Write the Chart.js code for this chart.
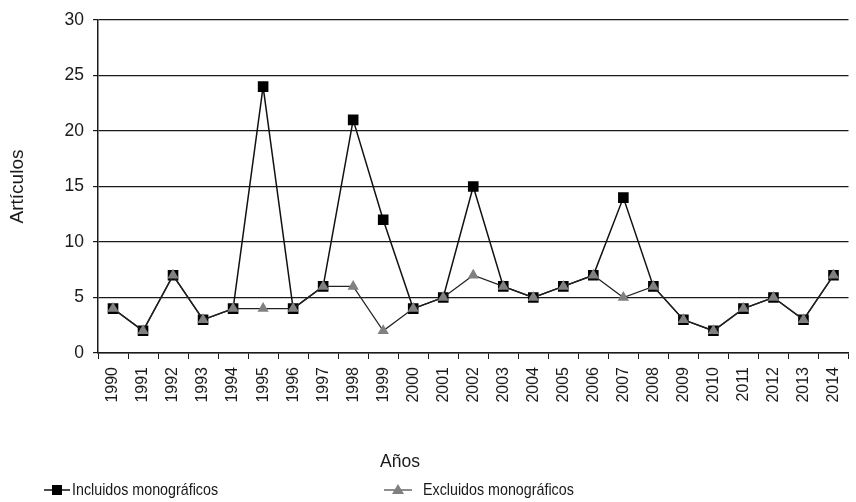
<!DOCTYPE html>
<html>
<head>
<meta charset="utf-8">
<script src="https://cdn.jsdelivr.net/npm/chart.js@4"></script>
<style>
  body { margin: 0; background: #fff; }
  #wrap { position: relative; width: 856px; height: 502px; }
  .txt { position: absolute; font-family: "Liberation Sans", Arial, sans-serif;
    color: #1a1a1a; white-space: nowrap; line-height: 20px; }
  #xtitle { top: 451px; left: 380px; font-size: 17.5px; }
  .item { top: 480px; display: flex; align-items: center; font-size: 17px; }
  .item svg { margin-right: 2px; }
  .cond { display: inline-block; transform: scaleX(0.84); transform-origin: left center; }
</style>
</head>
<body>
<div id="wrap">
  <canvas id="chart" width="856" height="502"></canvas>
  <div id="xtitle" class="txt">Años</div>
  <div class="txt item" style="left:44px">
    <svg width="26" height="20"><line x1="0" y1="10" x2="26" y2="10" stroke="#111" stroke-width="1.5"/><rect x="8" y="5" width="10" height="10" fill="#000"/></svg>
    <span class="cond">Incluidos monográficos</span>
  </div>
  <div class="txt item" style="left:384px">
    <svg width="28" height="20"><line x1="0" y1="10" x2="28" y2="10" stroke="#444" stroke-width="1.2"/><polygon points="14,4 20,14 8,14" fill="#808080"/></svg>
    <span class="cond" style="margin-left:9px">Excluidos monográficos</span>
  </div>
</div>
<script>
const years = ["1990","1991","1992","1993","1994","1995","1996","1997","1998","1999","2000","2001","2002","2003","2004","2005","2006","2007","2008","2009","2010","2011","2012","2013","2014"];
const incluidos = [4, 2, 7, 3, 4, 24, 4, 6, 21, 12, 4, 5, 15, 6, 5, 6, 7, 14, 6, 3, 2, 4, 5, 3, 7];
const excluidos = [4, 2, 7, 3, 4, 4, 4, 6, 6, 2, 4, 5, 7, 6, 5, 6, 7, 5, 6, 3, 2, 4, 5, 3, 7];
const yTicks = [0, 5, 10, 15, 20, 25, 30];

const font = "'Liberation Sans', Arial, sans-serif";
const ink = "#1a1a1a";

new Chart(document.getElementById("chart").getContext("2d"), {
  type: "line",
  data: {
    labels: years,
    datasets: [
      {
        label: "Incluidos monográficos",
        data: incluidos,
        borderColor: "#111",
        borderWidth: 1.5,
        pointStyle: "rect",
        pointRadius: 7.5,
        pointBackgroundColor: "#000",
        pointBorderColor: "#000",
        pointBorderWidth: 0,
        tension: 0,
        order: 2,
      },
      {
        label: "Excluidos monográficos",
        data: excluidos,
        borderColor: "#222",
        borderWidth: 1.2,
        pointStyle: "triangle",
        pointRadius: 6.5,
        pointBackgroundColor: "#808080",
        pointBorderColor: "#808080",
        pointBorderWidth: 0,
        tension: 0,
        order: 1,
      },
    ],
  },
  options: {
    responsive: false,
    animation: false,
    devicePixelRatio: 1,
    layout: { padding: { top: 20, right: 1, bottom: 26, left: 0 } },
    scales: {
      x: {
        offset: true,
        grid: {
          offset: true,
          drawOnChartArea: false,
          drawTicks: true,
          tickLength: 6,
          color: ink,
        },
        border: { color: ink, width: 1.5 },
        ticks: {
          minRotation: 90,
          maxRotation: 90,
          autoSkip: false,
          color: ink,
          font: { family: font, size: 16 },
          padding: 8,
        },
        afterFit: (scale) => {
          scale.height = 123;
          scale.paddingLeft = 0;
          scale.paddingRight = 0;
        },
      },
      y: {
        min: 0,
        max: 30,
        afterBuildTicks: (scale) => { scale.ticks = yTicks.map((v) => ({ value: v })); },
        grid: { color: ink, lineWidth: 1.2, tickLength: 5 },
        border: { color: ink, width: 1.5 },
        ticks: {
          color: ink,
          font: { family: font, size: 17.5 },
          padding: 9,
        },
        title: {
          display: true,
          text: "Artículos",
          color: ink,
          font: { family: font, size: 19 },
          padding: { top: 6, bottom: 0 },
        },
        afterFit: (scale) => { scale.width = 98; },
      },
    },
    plugins: {
      legend: { display: false },
      tooltip: { enabled: false },
    },
  },
});
</script>
</body>
</html>
